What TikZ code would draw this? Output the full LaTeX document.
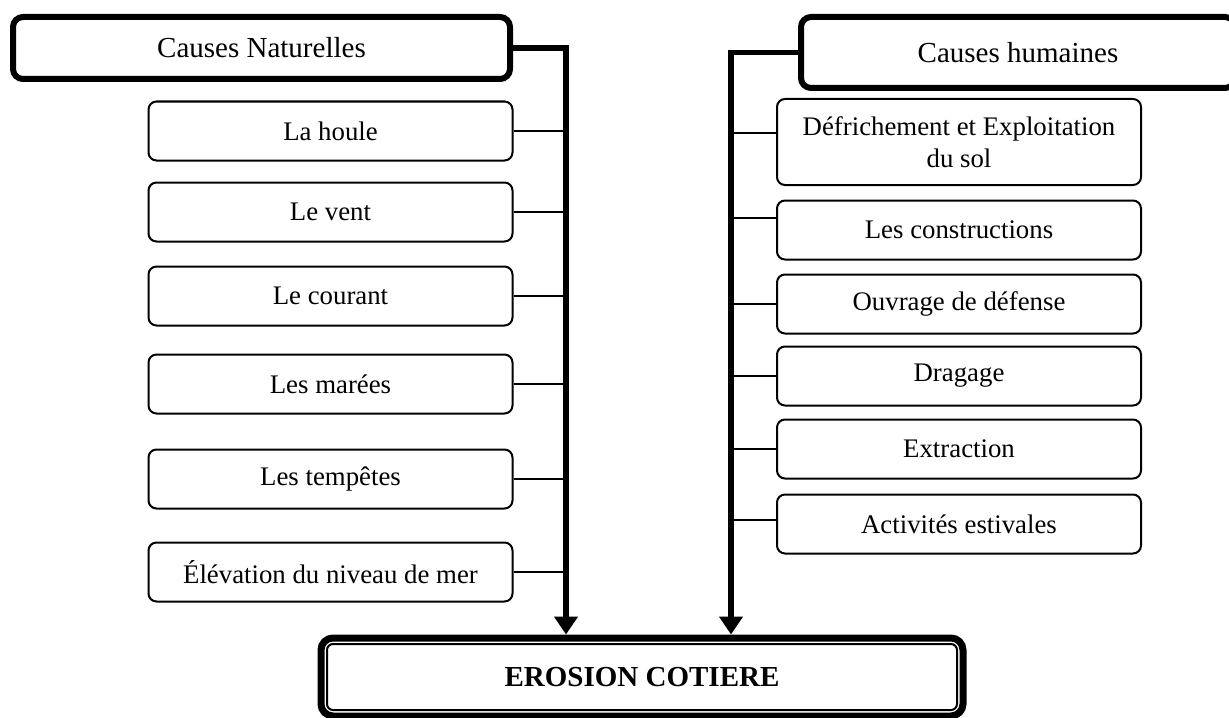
\documentclass[tikz,border=0pt]{standalone}
\usepackage{fontspec}
\setmainfont{Liberation Serif}
\usetikzlibrary{arrows.meta}

\begin{document}
\begin{tikzpicture}[x=0.5pt,y=-0.5pt,font=\fontsize{14.5pt}{16pt}\selectfont,
  head/.style={draw,line width=3pt,rounded corners=5pt,inner sep=0pt},
  cause/.style={draw,line width=1pt,rounded corners=4pt,inner sep=0pt,
    minimum width=182pt,minimum height=29.5pt,align=center,
    font=\fontsize{13.4pt}{16pt}\selectfont},
  spine/.style={line width=2.8pt,-{Triangle[width=11.5pt,length=9pt]}},
  branch/.style={line width=0.75pt}]
\useasboundingbox (0,0) rectangle (1229,717);

% Headers
\node[head,minimum width=248.5pt,minimum height=31pt] (nat) at (261.5,48) {Causes Naturelles};
\node[head,minimum width=217pt,minimum height=35.5pt] (hum) at (1018,52.5) {Causes humaines};
\coordinate (spineL) at (566,0);
\coordinate (spineR) at (731,0);

% Natural causes
\node[cause] (houle) at (330.5,131) {La houle};
\node[cause] (vent) at (330.5,212) {Le vent};
\node[cause] (courant) at (330.5,296) {Le courant};
\node[cause] (marees) at (330.5,384) {Les marées};
\node[cause] (tempetes) at (330.5,479) {Les tempêtes};
\node[cause] (niveau) at (330.5,572) {Élévation du niveau de mer};

% Human causes
\node[cause,minimum height=43pt] (defrich) at (959,142) {Défrichement et Exploitation\\du sol};
\node[cause] (constr) at (959,230) {Les constructions};
\node[cause] (ouvrage) at (959,304) {Ouvrage de défense};
\node[cause] (dragage) at (959,376) {Dragage};
\node[cause] (extract) at (959,449) {Extraction};
\node[cause] (activ) at (959,524) {Activités estivales};

% Result
\node[draw,line width=3.5pt,rounded corners=6pt,minimum width=321pt,minimum height=39pt,
  font=\fontsize{14.5pt}{16pt}\selectfont\bfseries] (ero) at (642,677) {EROSION COTIERE};
\draw[line width=1pt,rounded corners=3pt] ([shift={(4.75pt,-4.75pt)}]ero.north west) rectangle ([shift={(-4.75pt,4.75pt)}]ero.south east);

% Main arrows
\draw[spine] (nat.east) -| (ero.north -| spineL);
\draw[spine] (hum.west) -| (ero.north -| spineR);

% Branches left
\draw[branch] (houle.east) -- (houle.east -| spineL);
\draw[branch] (vent.east) -- (vent.east -| spineL);
\draw[branch] (courant.east) -- (courant.east -| spineL);
\draw[branch] (marees.east) -- (marees.east -| spineL);
\draw[branch] (tempetes.east) -- (tempetes.east -| spineL);
\draw[branch] (niveau.east) -- (niveau.east -| spineL);

% Branches right
\draw[branch] ([yshift=4.5pt]defrich.west) -- ([yshift=4.5pt]defrich.west -| spineR);
\draw[branch] ([yshift=6pt]constr.west) -- ([yshift=6pt]constr.west -| spineR);
\draw[branch] (ouvrage.west) -- (ouvrage.west -| spineR);
\draw[branch] (dragage.west) -- (dragage.west -| spineR);
\draw[branch] (extract.west) -- (extract.west -| spineR);
\draw[branch] ([yshift=2pt]activ.west) -- ([yshift=2pt]activ.west -| spineR);

\end{tikzpicture}
\end{document}
